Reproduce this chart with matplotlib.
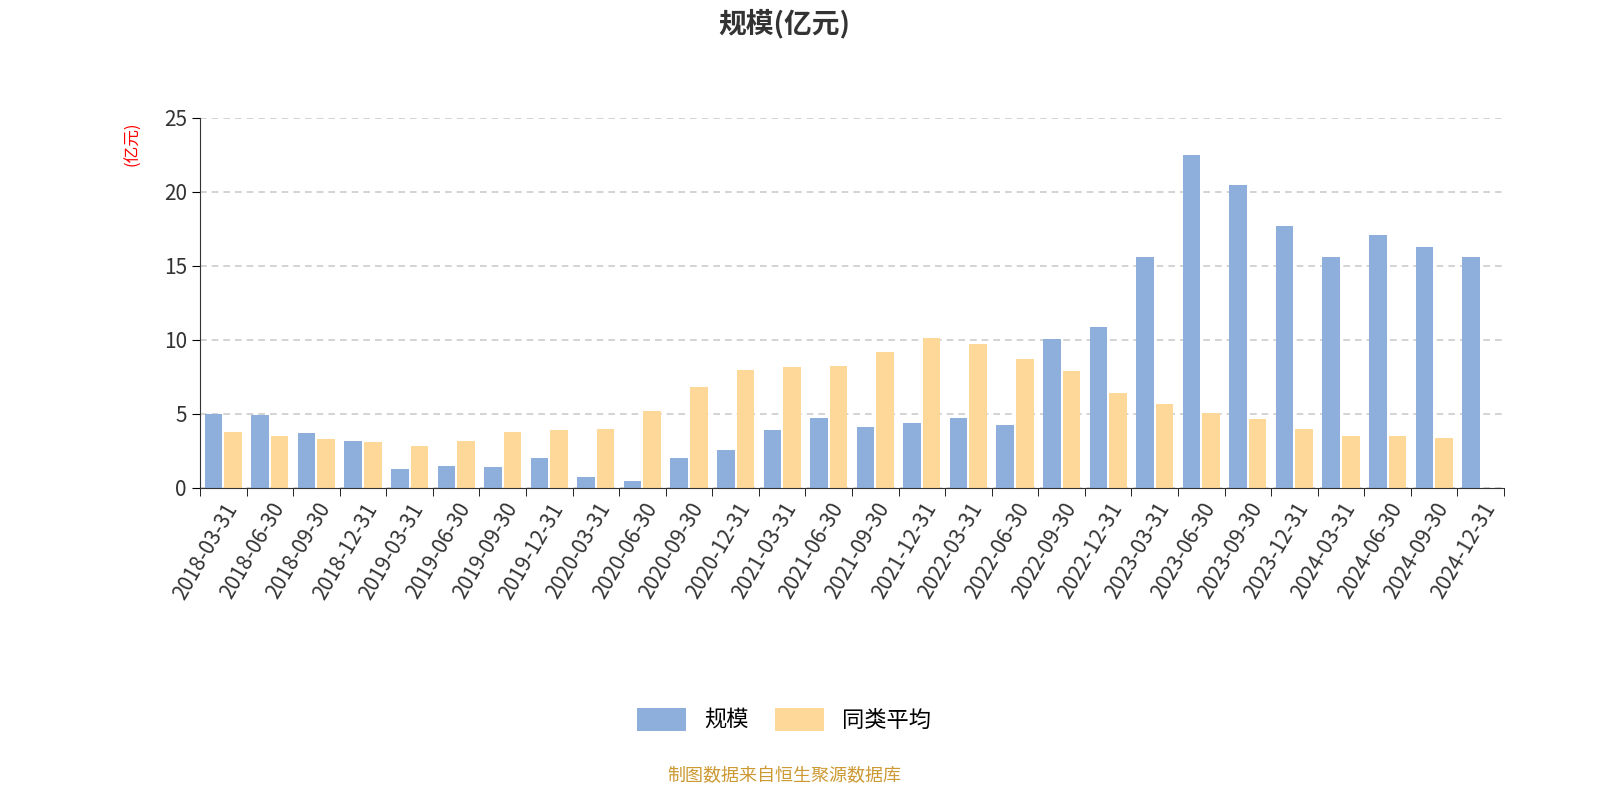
import numpy as np
import matplotlib.pyplot as plt
from matplotlib import font_manager

# 找一个能显示中文的字体
names = set(f.name for f in font_manager.fontManager.ttflist)
cjk = [n for n in ['Noto Sans CJK SC', 'Noto Sans CJK JP', 'Noto Sans CJK TC', 'Noto Sans CJK KR'] if n in names]
plt.rcParams['font.family'] = cjk + ['DejaVu Sans']

dates = ['2018-03-31', '2018-06-30', '2018-09-30', '2018-12-31', '2019-03-31', '2019-06-30',
         '2019-09-30', '2019-12-31', '2020-03-31', '2020-06-30', '2020-09-30', '2020-12-31',
         '2021-03-31', '2021-06-30', '2021-09-30', '2021-12-31', '2022-03-31', '2022-06-30',
         '2022-09-30', '2022-12-31', '2023-03-31', '2023-06-30', '2023-09-30', '2023-12-31',
         '2024-03-31', '2024-06-30', '2024-09-30', '2024-12-31']
scale = [5.0, 4.9, 3.7, 3.2, 1.3, 1.5, 1.4, 2.0, 0.75, 0.45, 2.05, 2.6,
         3.9, 4.7, 4.1, 4.4, 4.75, 4.25, 10.1, 10.9, 15.6, 22.5, 20.5, 17.7,
         15.6, 17.1, 16.3, 15.6]
avg = [3.8, 3.5, 3.3, 3.1, 2.85, 3.15, 3.8, 3.95, 4.0, 5.2, 6.85, 8.0,
       8.2, 8.25, 9.2, 10.15, 9.75, 8.75, 7.9, 6.4, 5.7, 5.1, 4.65, 4.0,
       3.5, 3.5, 3.35, np.nan]

fig = plt.figure(figsize=(16, 8), dpi=100)
ax = fig.add_axes([0.125, 0.39, 0.815, 0.4625])
x = np.arange(len(dates))
w = 0.38
ax.bar(x - 0.21, scale, w, color='#8eaedb', label='规模')
ax.bar(x + 0.21, avg, w, color='#fed898', label='同类平均')

ax.set_xlim(-0.5, len(dates) - 0.5)
ax.set_ylim(0, 25)
ax.set_yticks([0, 5, 10, 15, 20, 25])
ax.yaxis.grid(True, ls=(0, (4, 3)), color='#cccccc', lw=1.2)
ax.set_axisbelow(True)
ax.set_xticks(x)
ax.set_xticklabels(dates, rotation=60, ha='right', rotation_mode='anchor', fontsize=15, color='#333333')
ax.set_xticks(np.arange(-0.5, len(dates)), minor=True)
ax.tick_params(axis='x', which='major', length=0, pad=8)
ax.tick_params(axis='x', which='minor', length=6)
ax.tick_params(axis='y', labelsize=15, labelcolor='#333333', length=6)
for s in ['top', 'right']:
    ax.spines[s].set_visible(False)
ax.spines['left'].set_color('#333333')
ax.spines['bottom'].set_color('#333333')
ax.set_ylabel('(亿元)', color='red', fontsize=12)
ax.yaxis.set_label_coords(-0.045, 0.93)

fig.text(0.49, 0.97, '规模(亿元)', ha='center', va='center', fontsize=20, fontweight='bold', color='#333333')
fig.legend(loc='center', bbox_to_anchor=(0.49, 0.1), ncol=2, frameon=False, fontsize=16,
           handlelength=2.2, handleheight=1.2, columnspacing=1.2)
fig.text(0.49, 0.03, '制图数据来自恒生聚源数据库', ha='center', va='center', fontsize=13, color='#cc9933')

fig.savefig('out.png')
